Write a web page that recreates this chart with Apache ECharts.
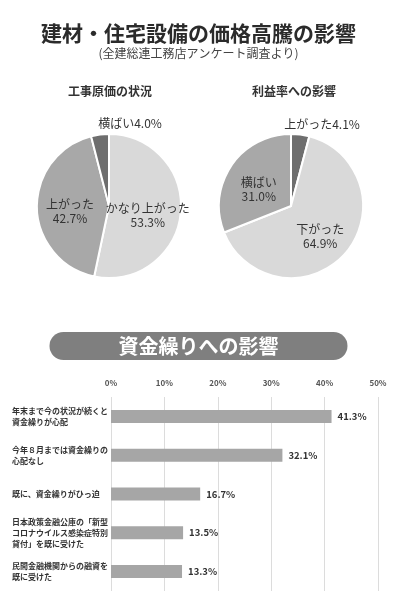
<!DOCTYPE html>
<html>
<head>
<meta charset="utf-8">
<script src="https://cdn.jsdelivr.net/npm/echarts@6/dist/echarts.min.js"></script>
<style>
  html, body { margin: 0; padding: 0; background: #fff; }
  #main { width: 397px; height: 600px; }
</style>
</head>
<body>
<div id="main"></div>
<script>
// 工事原価の状況
var costNames = ['かなり上がった', '上がった', '横ばい'];
var costValues = [53.3, 42.7, 4.0];
// 利益率への影響
var profitNames = ['上がった', '下がった', '横ばい'];
var profitValues = [4.1, 64.9, 31.0];
// 資金繰りへの影響
var fundCategories = [
    '年末まで今の状況が続くと\n資金繰りが心配',
    '今年８月までは資金繰りの\n心配なし',
    '既に、資金繰りがひっ迫',
    '日本政策金融公庫の「新型\nコロナウイルス感染症特別\n貸付」を既に受けた',
    '民間金融機関からの融資を\n既に受けた'
];
var fundValues = [41.3, 32.1, 16.7, 13.5, 13.3];
var xTicks = [0, 10, 20, 30, 40, 50];

var LIGHT = '#d9d9d9', MID = '#a8a8a8', DARK = '#6e6e6e';
var FONT = '"Noto Sans CJK JP", sans-serif';

function pieData(names, values, colors) {
    var arr = [];
    for (var i = 0; i < names.length; i++) {
        arr.push({name: names[i], value: values[i], itemStyle: {color: colors[i]}});
    }
    return arr;
}

function pieLabel(p) {
    var v = p.value.toFixed(1) + '%';
    return p.value < 10 ? p.name + v : p.name + '\n' + v;
}

function pieSeries(center, data, smallPos) {
    return {
        type: 'pie',
        radius: 72,
        center: center,
        startAngle: 90,
        clockwise: true,
        silent: true,
        itemStyle: {borderColor: '#fff', borderWidth: 2},
        label: {
            show: true,
            position: 'inner',
            formatter: pieLabel,
            fontFamily: FONT,
            fontSize: 12,
            lineHeight: 14,
            color: '#333'
        },
        labelLine: {show: false},
        labelLayout: function (params) {
            var d = data[params.dataIndex];
            if (d.value < 10) {
                return {x: smallPos[0], y: smallPos[1], align: 'center', verticalAlign: 'middle'};
            }
            return {dy: 5};
        },
        data: data
    };
}

var myChart = echarts.init(document.getElementById('main'));
myChart.setOption({
    animation: false,
    textStyle: {fontFamily: FONT},
    title: [
        {
            text: '建材・住宅設備の価格高騰の影響',
            left: 'center', top: 18,
            textStyle: {fontFamily: FONT, fontSize: 21, fontWeight: 'bold', color: '#2b2b2b'}
        },
        {
            text: '(全建総連工務店アンケート調査より)',
            left: 'center', top: 42,
            textStyle: {fontFamily: FONT, fontSize: 12, fontWeight: 'normal', color: '#444'}
        },
        {
            text: '工事原価の状況',
            left: 63, top: 80,
            textStyle: {fontFamily: FONT, fontSize: 12, fontWeight: 'bold', color: '#333'}
        },
        {
            text: '利益率への影響',
            left: 247, top: 80,
            textStyle: {fontFamily: FONT, fontSize: 12, fontWeight: 'bold', color: '#333'}
        },
        {
            text: '資金繰りへの影響',
            left: 'center', top: 332,
            backgroundColor: '#7f7f7f',
            borderRadius: 14,
            padding: [3, 69, 3, 69],
            textStyle: {fontFamily: FONT, fontSize: 20, fontWeight: 'bold', color: '#fff', lineHeight: 22}
        }
    ],
    grid: {left: 111, right: 19, top: 397, bottom: 9},
    xAxis: {
        type: 'value',
        position: 'top',
        min: 0, max: 50, interval: 10,
        axisLine: {show: false},
        axisTick: {show: false},
        axisLabel: {
            formatter: '{value}%',
            fontFamily: FONT, fontSize: 8, fontWeight: 'bold', color: '#555', margin: 10
        },
        splitLine: {lineStyle: {color: '#dcdcdc', width: 1}}
    },
    yAxis: {
        type: 'category',
        inverse: true,
        data: fundCategories,
        axisLine: {show: false},
        axisTick: {show: false},
        axisLabel: {
            align: 'left', margin: 99,
            fontFamily: FONT, fontSize: 8, lineHeight: 11, fontWeight: 'bold', color: '#333'
        }
    },
    series: [
        pieSeries([109, 206], pieData(costNames, costValues, [LIGHT, MID, DARK]), [130, 123]),
        pieSeries([291, 206], pieData(profitNames, profitValues, [DARK, LIGHT, MID]), [322, 124]),
        {
            type: 'bar',
            data: fundValues,
            barWidth: 13,
            silent: true,
            itemStyle: {color: '#a6a6a6'},
            label: {
                show: true,
                position: 'right',
                distance: 6,
                formatter: function (p) { return p.value.toFixed(1) + '%'; },
                fontFamily: FONT, fontSize: 9.5, fontWeight: 'bold', color: '#333'
            }
        }
    ]
});
</script>
</body>
</html>
